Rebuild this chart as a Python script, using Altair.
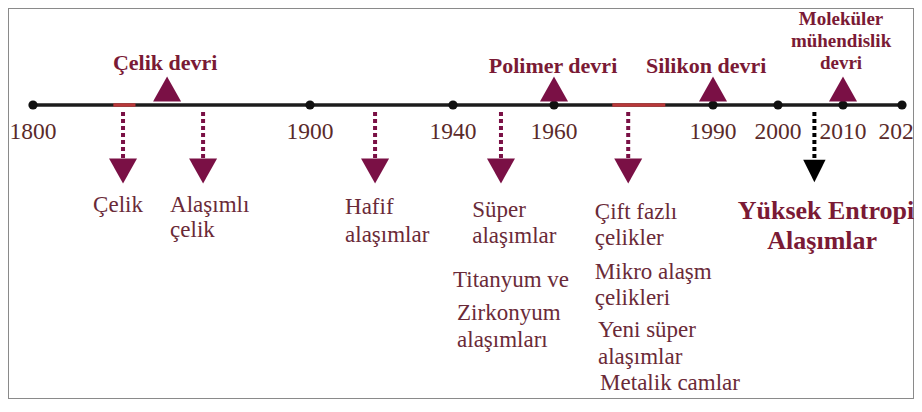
import altair as alt
import pandas as pd

W, H = 906, 391

# ---- timeline ticks ----
tick_years = [1800, 1900, 1940, 1960, 1990, 2000, 2010, 2020]
tick_labels = ["1800", "1900", "1940", "1960", "1990", "2000", "2010", "2020"]
tick_px = [25, 302, 445, 546, 705, 770, 835, 894]   # piecewise-linear scale range

# ---- highlighted (red) stretches on the timeline ----
seg_start = [1829, 1971]
seg_end = [1837, 1981]

# ---- eras (upward triangles + bold labels) ----
era_years = [1848.4, 1960, 1990, 2010]
era_text = ["Çelik devri", "Polimer devri", "Silikon devri"]
era_text_year = [1847.7, 1959.8, 1988.7]
era_text_row = [55, 58, 58]
mol_text = ["Moleküler", "mühendislik", "devri"]
mol_year = [2009.7, 2009.7, 2009.7]
mol_row = [11, 33, 55]

# ---- material arrows ----
arrow_years = [1832.5, 1861.4, 1918.2, 1949.5, 1974, 2005.6]
arrow_kind = ["m", "m", "m", "m", "m", "k"]

# ---- material labels ----
item_text = ["Çelik", "Alaşımlı", "çelik", "Hafif", "alaşımlar", "Süper", "alaşımlar",
             "Titanyum ve", "Zirkonyum", "alaşımları",
             "Çift fazlı", "çelikler", "Mikro alaşm", "çelikleri", "Yeni süper",
             "alaşımlar", "Metalik camlar"]
item_year = [1830.7, 1849.5, 1849.5, 1909.8, 1909.8, 1943.8, 1943.8,
             1940.0, 1940.8, 1940.8,
             1967.7, 1967.7, 1967.7, 1967.7, 1968.3, 1968.3, 1968.7]
item_row = [197, 197, 222, 199, 227, 202, 228,
            272, 305, 332,
            204, 230, 264, 290, 322, 349, 375]
item_align = ["center"] + ["left"] * 16

hea_text = ["Yüksek Entropi", "Alaşımlar"]
hea_year = [1993.8, 2006.8]
hea_row = [203, 233]
hea_align = ["left", "center"]

# layout rows (vertical levels)
LINE_ROW = 97
YEAR_ROW = 124
TRI_ROW = 81
DOT_TOP, DOT_BOT, HEAD_ROW = 104, 150, 163

MAROON = "#7a1045"
TEXT = "#6a2a38"
HEAD = "#7a1a35"
YEARC = "#5a2a2a"
FONT = "Liberation Serif"

xs = alt.Scale(domain=tick_years, range=tick_px, nice=False, zero=False)
ys = alt.Scale(domain=[0, H], range=[0, H], nice=False, zero=False)
X = lambda f: alt.X(f, type="quantitative", scale=xs, axis=None)
Y = lambda f: alt.Y(f, type="quantitative", scale=ys, axis=None)

line_df = pd.DataFrame({"a": [tick_years[0]], "b": [tick_years[-1]], "y": [LINE_ROW]})
line = alt.Chart(line_df).mark_rule(color="#1c1c1c", strokeWidth=3.5).encode(
    x=X("a"), x2="b", y=Y("y"))

seg_df = pd.DataFrame({"a": seg_start, "b": seg_end, "y": [LINE_ROW] * len(seg_start)})
segs = alt.Chart(seg_df).mark_rule(color="#b8383a", strokeWidth=3.5).encode(
    x=X("a"), x2="b", y=Y("y"))

tick_df = pd.DataFrame({"year": tick_years, "label": tick_labels,
                        "y": [LINE_ROW] * len(tick_years), "ly": [YEAR_ROW] * len(tick_years)})
dots = alt.Chart(tick_df).mark_point(filled=True, shape="circle", size=85,
                                     color="#111", opacity=1).encode(x=X("year"), y=Y("y"))
years = alt.Chart(tick_df).mark_text(font=FONT, fontSize=23.5, color=YEARC, clip=True).encode(
    x=X("year"), y=Y("ly"), text="label")

era_df = pd.DataFrame({"year": era_years, "y": [TRI_ROW] * len(era_years)})
tri_up = alt.Chart(era_df).mark_point(filled=True, shape="M-1,0.9L0,-0.9L1,0.9Z",
                                      size=784, color=MAROON, opacity=1).encode(
    x=X("year"), y=Y("y"))

era_lab_df = pd.DataFrame({"t": era_text, "year": era_text_year, "y": era_text_row})
era_labs = alt.Chart(era_lab_df).mark_text(font=FONT, fontSize=22, fontWeight="bold",
                                           color=HEAD).encode(
    x=X("year"), y=Y("y"), text="t")
mol_df = pd.DataFrame({"t": mol_text, "year": mol_year, "y": mol_row})
mol_labs = alt.Chart(mol_df).mark_text(font=FONT, fontSize=19, fontWeight="bold",
                                       color=HEAD).encode(
    x=X("year"), y=Y("y"), text="t")

arr_df = pd.DataFrame({"year": arrow_years, "kind": arrow_kind,
                       "y1": [DOT_TOP] * 6, "y2": [DOT_BOT] * 6, "h": [HEAD_ROW] * 6})
arr_m = arr_df[arr_df.kind == "m"]
arr_k = arr_df[arr_df.kind == "k"]
stems_m = alt.Chart(arr_m).mark_rule(color=MAROON, strokeWidth=4, strokeDash=[4, 3]).encode(
    x=X("year"), y=Y("y1"), y2="y2")
heads_m = alt.Chart(arr_m).mark_point(filled=True, shape="M-1,-0.9L1,-0.9L0,0.9Z",
                                      size=784, color=MAROON, opacity=1).encode(
    x=X("year"), y=Y("h"))
stems_k = alt.Chart(arr_k).mark_rule(color="#000", strokeWidth=4, strokeDash=[4, 3]).encode(
    x=X("year"), y=Y("y1"), y2="y2")
heads_k = alt.Chart(arr_k).mark_point(filled=True, shape="M-1,-1L1,-1L0,1Z",
                                      size=500, color="#000", opacity=1).encode(
    x=X("year"), y=Y("h"))

item_df = pd.DataFrame({"t": item_text, "year": item_year, "y": item_row, "al": item_align})
items_c = alt.Chart(item_df[item_df.al == "center"]).mark_text(
    font=FONT, fontSize=23, color=TEXT, align="center").encode(x=X("year"), y=Y("y"), text="t")
items_l = alt.Chart(item_df[item_df.al == "left"]).mark_text(
    font=FONT, fontSize=23, color=TEXT, align="left").encode(x=X("year"), y=Y("y"), text="t")

hea_df = pd.DataFrame({"t": hea_text, "year": hea_year, "y": hea_row, "al": hea_align})
hea_l = alt.Chart(hea_df[hea_df.al == "left"]).mark_text(
    font=FONT, fontSize=26, fontWeight="bold", color=HEAD, align="left", clip=True).encode(
    x=X("year"), y=Y("y"), text="t")
hea_c = alt.Chart(hea_df[hea_df.al == "center"]).mark_text(
    font=FONT, fontSize=26, fontWeight="bold", color=HEAD, align="center", clip=True).encode(
    x=X("year"), y=Y("y"), text="t")

chart = alt.layer(
    line, segs, dots, years, tri_up, era_labs, mol_labs,
    stems_m, heads_m, stems_k, heads_k,
    items_c, items_l, hea_l, hea_c,
).properties(
    width=W, height=H, padding=0, autosize=alt.AutoSizeParams(type="none"),
    background="white",
).configure_view(stroke="#8a8a8a", strokeWidth=2)

chart.save("out.html", embed_options={"renderer": "svg", "actions": False})
